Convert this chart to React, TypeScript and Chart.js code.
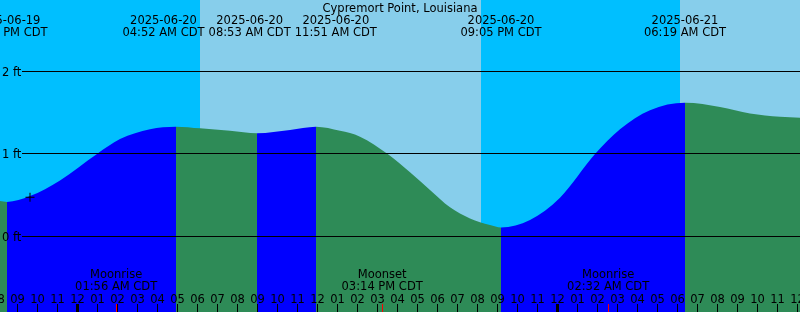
import React, { useEffect, useRef } from 'react';
import { Chart, registerables } from 'chart.js';

Chart.register(...registerables);

// ---------- data (hours measured from 2025-06-20 00:00 CDT) ----------
const TITLE = 'Cypremort Point, Louisiana';
const X_MIN = -3.875;
const X_MAX = 36.125;
const Y_MIN = -0.913;
const Y_MAX = 2.864;

const tideHours = [
  -3.875, -3.525, -2.375, -0.875, 0.975, 2.125, 3.625, 4.925,
  6.125, 7.625, 8.975, 10.625, 11.925, 13.125, 14.125, 15.51,
  16.625, 17.625, 18.625, 19.625, 20.625, 21.175, 22.625, 24.125,
  25.875, 27.125, 28.625, 30.375, 32.125, 33.625, 35.125, 36.125,
];
const tideFeet = [
  0.43, 0.42, 0.49, 0.68, 1.0, 1.18, 1.30, 1.33,
  1.31, 1.28, 1.25, 1.29, 1.33, 1.28, 1.21, 1.0,
  0.78, 0.565, 0.355, 0.22, 0.14, 0.11, 0.20, 0.47,
  1.0, 1.30, 1.53, 1.62, 1.57, 1.49, 1.45, 1.44,
];

const extremeHours = [-3.525, 4.925, 8.975, 11.925, 21.175, 30.375];
const extremeDates = ['2025-06-19', '2025-06-20', '2025-06-20', '2025-06-20', '2025-06-20', '2025-06-21'];
const extremeTimes = ['08:24 PM CDT', '04:52 AM CDT', '08:53 AM CDT', '11:51 AM CDT', '09:05 PM CDT', '06:19 AM CDT'];

const moonHours = [1.933, 15.233, 26.533];
const moonEvents = ['Moonrise', 'Moonset', 'Moonrise'];
const moonTimes = ['01:56 AM CDT', '03:14 PM CDT', '02:32 AM CDT'];

// night -> sunrise -> day -> sunset -> night -> sunrise -> day
const sunHours = [6.125, 20.175, 30.1];

const yTicks = [0, 1, 2];
const yTickUnit = 'ft';

const markerHours = [-2.375];
const markerFeet = [0.476];

// ---------- styles ----------
const NIGHT = '#00BFFF';
const DAY = '#87CEEB';
const FLOOD = '#0000FF';
const EBB = '#2E8B57';
const FONT = '11.5px "DejaVu Sans"';

function hourLabel(h: number): string {
  const hh = ((Math.round(h) % 24) + 24) % 24;
  const v = hh % 12 === 0 ? 12 : hh % 12;
  return v < 10 ? '0' + v : String(v);
}

function layoutCenters(ideal: number[], W: number): number[] {
  let cl = ideal.map((c) => ({ members: [c], mean: c }));
  let merged = true;
  while (merged) {
    merged = false;
    for (let i = 0; i < cl.length - 1; i++) {
      const a = cl[i];
      const b = cl[i + 1];
      const aEnd = a.mean + ((a.members.length - 1) / 2) * W;
      const bStart = b.mean - ((b.members.length - 1) / 2) * W;
      if (bStart - aEnd < W) {
        const members = a.members.concat(b.members);
        cl.splice(i, 2, { members, mean: members.reduce((s, v) => s + v, 0) / members.length });
        merged = true;
        break;
      }
    }
  }
  const out: number[] = [];
  cl.forEach((c) => {
    const n = c.members.length;
    for (let k = 0; k < n; k++) out.push(c.mean + (k - (n - 1) / 2) * W);
  });
  return out;
}

const backgroundPlugin = {
  id: 'dayNight',
  beforeDatasetsDraw(chart: any) {
    const ctx = chart.ctx;
    const xs = chart.scales.x;
    const { top, bottom } = chart.chartArea;
    const bounds = [X_MIN, ...sunHours, X_MAX];
    ctx.save();
    for (let i = 0; i < bounds.length - 1; i++) {
      const x0 = Math.round(xs.getPixelForValue(bounds[i]));
      const x1 = Math.round(xs.getPixelForValue(bounds[i + 1]));
      ctx.fillStyle = i % 2 === 0 ? NIGHT : DAY;
      ctx.fillRect(x0, top, x1 - x0, bottom - top);
    }
    ctx.restore();
  },
};

const overlayPlugin = {
  id: 'overlay',
  afterDatasetsDraw(chart: any) {
    const ctx = chart.ctx;
    const xs = chart.scales.x;
    const ys = chart.scales.y;
    const { left, right, bottom } = chart.chartArea;
    ctx.save();
    ctx.font = FONT;
    ctx.fillStyle = '#000';
    ctx.strokeStyle = '#000';
    ctx.textBaseline = 'alphabetic';

    // horizontal reference lines + labels
    ctx.lineWidth = 1;
    yTicks.forEach((v) => {
      const py = ys.getPixelForValue(v);
      const ly = Math.floor(py) + 0.5;
      ctx.beginPath();
      ctx.moveTo(left + 22, ly);
      ctx.lineTo(right, ly);
      ctx.stroke();
      ctx.textAlign = 'left';
      ctx.fillText(v + ' ' + yTickUnit, left + 2, Math.round(py + 4.3));
    });

    // title
    ctx.textAlign = 'center';
    ctx.fillText(TITLE, (left + right) / 2, 12);

    // tide extreme labels
    const W = Math.max(
      ...extremeTimes.map((t) => ctx.measureText(t).width),
      ...extremeDates.map((t) => ctx.measureText(t).width)
    ) + 4;
    const ideal = extremeHours.map((h) => xs.getPixelForValue(h));
    const centers = layoutCenters(ideal, W);
    centers.forEach((cx, i) => {
      ctx.fillText(extremeDates[i], cx, 24);
      ctx.fillText(extremeTimes[i], cx, 36);
    });

    // moon labels
    moonHours.forEach((h, i) => {
      const cx = xs.getPixelForValue(h);
      ctx.fillText(moonEvents[i], cx, 278);
      ctx.fillText(moonTimes[i], cx, 290);
    });

    // hour ticks and labels
    for (let h = Math.ceil(X_MIN - 1); h <= Math.floor(X_MAX + 1); h++) {
      const px = xs.getPixelForValue(h);
      const midnight = ((h % 24) + 24) % 24 === 0;
      ctx.fillStyle = '#000';
      if (midnight) ctx.fillRect(Math.floor(px) - 1, bottom - 8, 3, 8);
      else ctx.fillRect(Math.floor(px), bottom - 8, 1, 8);
      ctx.fillText(hourLabel(h), px, 303);
    }
    // moon event ticks
    ctx.fillStyle = '#FF0000';
    moonHours.forEach((h) => {
      const px = xs.getPixelForValue(h);
      ctx.fillRect(Math.floor(px), bottom - 8, 1, 8);
    });
    ctx.restore();
  },
};

export default function App() {
  const canvasRef = useRef<HTMLCanvasElement | null>(null);

  useEffect(() => {
    const canvas = canvasRef.current;
    if (!canvas) return;
    const tideData = tideHours.map((h, i) => ({ x: h, y: tideFeet[i] }));
    const markerData = markerHours.map((h, i) => ({ x: h, y: markerFeet[i] }));
    const chart = new Chart(canvas, {
      type: 'line',
      data: {
        datasets: [
          {
            label: 'marker',
            data: markerData,
            showLine: false,
            pointStyle: 'cross',
            pointRadius: 4.5,
            pointBorderColor: '#000',
            pointBackgroundColor: '#000',
            pointBorderWidth: 1,
            order: 1,
          } as any,
          {
            label: 'tide',
            data: tideData,
            borderWidth: 0,
            borderColor: 'rgba(0,0,0,0)',
            backgroundColor: EBB,
            pointRadius: 0,
            fill: 'start',
            cubicInterpolationMode: 'monotone',
            order: 2,
            segment: {
              backgroundColor: (c: any) => (c.p1.parsed.y > c.p0.parsed.y ? FLOOD : EBB),
              borderColor: () => 'rgba(0,0,0,0)',
            },
          } as any,
        ],
      },
      options: {
        animation: false,
        responsive: false,
        maintainAspectRatio: false,
        layout: { padding: 0, autoPadding: false },
        plugins: {
          legend: { display: false },
          tooltip: { enabled: false },
          title: { display: false },
        },
        events: [],
        scales: {
          x: { type: 'linear', min: X_MIN, max: X_MAX, display: false },
          y: { type: 'linear', min: Y_MIN, max: Y_MAX, display: false },
        },
      },
      plugins: [backgroundPlugin, overlayPlugin],
    });
    return () => chart.destroy();
  }, []);

  return (
    <div style={{ position: 'absolute', left: 0, top: 0, width: 800, height: 312 }}>
      <canvas ref={canvasRef} width={800} height={312} style={{ display: 'block', width: 800, height: 312 }} />
    </div>
  );
}
